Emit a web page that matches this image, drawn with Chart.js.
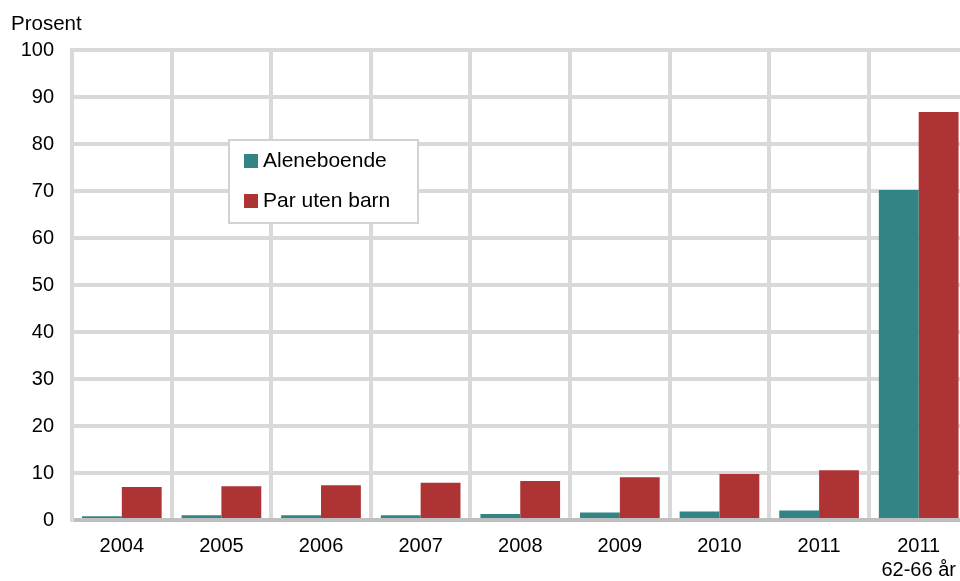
<!DOCTYPE html>
<html>
<head>
<meta charset="utf-8">
<script src="https://cdn.jsdelivr.net/npm/chart.js@4"></script>
<style>
  html, body { margin: 0; padding: 0; background: #fff; overflow: hidden; }
  #wrap { position: relative; width: 970px; height: 581px; }
</style>
</head>
<body>
<div id="wrap"><canvas id="chart"></canvas></div>
<script>
const categories = ['2004', '2005', '2006', '2007', '2008', '2009', '2010', '2011', ['2011', '62-66 år']]
const aleneboende = [0.8, 1.0, 1.0, 1.0, 1.3, 1.6, 1.8, 2.0, 70.2]
const parUtenBarn = [7.0, 7.2, 7.4, 7.9, 8.3, 9.1, 9.8, 10.6, 86.8]
const yTicks = [0, 10, 20, 30, 40, 50, 60, 70, 80, 90, 100]

const FONT = 'Liberation Sans, Arial, sans-serif'
const GRID = '#d9d9d9'

// "Prosent" over the y axis and the boxed legend inside the plot
const extras = {
  id: 'extras',
  afterDraw (chart) {
    const ctx = chart.ctx
    ctx.save()
    ctx.font = '20.5px ' + FONT
    ctx.fillStyle = '#000'
    ctx.textBaseline = 'alphabetic'
    ctx.textAlign = 'left'
    ctx.fillText('Prosent', 11, 30)

    // legend box
    ctx.fillStyle = '#fff'
    ctx.fillRect(229, 140, 189, 83)
    ctx.strokeStyle = '#d2d2d2'
    ctx.lineWidth = 2
    ctx.strokeRect(229, 140, 189, 83)
    ctx.font = '21px ' + FONT
    ctx.textBaseline = 'middle'
    chart.data.datasets.forEach((ds, i) => {
      const y = 161 + i * 40
      ctx.fillStyle = ds.backgroundColor
      ctx.fillRect(244, y - 7, 14, 14)
      ctx.fillStyle = '#000'
      ctx.fillText(ds.label, 263, y)
    })
    ctx.restore()
  }
}

const ctx = document.getElementById('chart').getContext('2d')
new Chart(ctx, {
  type: 'bar',
  data: {
    labels: categories,
    datasets: [{
      label: 'Aleneboende',
      data: aleneboende,
      backgroundColor: '#338585',
      borderWidth: 0,
      categoryPercentage: 0.8,
      barPercentage: 1.0
    }, {
      label: 'Par uten barn',
      data: parUtenBarn,
      backgroundColor: '#ad3335',
      borderWidth: 0,
      categoryPercentage: 0.8,
      barPercentage: 1.0
    }]
  },
  options: {
    responsive: true,
    maintainAspectRatio: false,
    animation: false,
    layout: { padding: { top: 50, right: 1, bottom: 0, left: 0 } },
    plugins: {
      legend: { display: false },
      tooltip: { enabled: false }
    },
    scales: {
      x: {
        offset: true,
        grid: { offset: true, color: GRID, lineWidth: 4, drawTicks: false },
        border: { color: '#bfbfbf', width: 4 },
        ticks: {
          color: '#000',
          font: { family: FONT, size: 20 },
          padding: 14,
          maxRotation: 0,
          autoSkip: false
        },
        afterFit (scale) { scale.height = 61 }
      },
      y: {
        min: 0,
        max: 100,
        afterBuildTicks (scale) { scale.ticks = yTicks.map(v => ({ value: v })) },
        grid: { color: GRID, lineWidth: 4, drawTicks: false },
        border: { color: GRID, width: 4 },
        ticks: {
          color: '#000',
          font: { family: FONT, size: 20 },
          padding: 18
        },
        afterFit (scale) { scale.width = 72 }
      }
    }
  },
  plugins: [extras]
})
</script>
</body>
</html>
